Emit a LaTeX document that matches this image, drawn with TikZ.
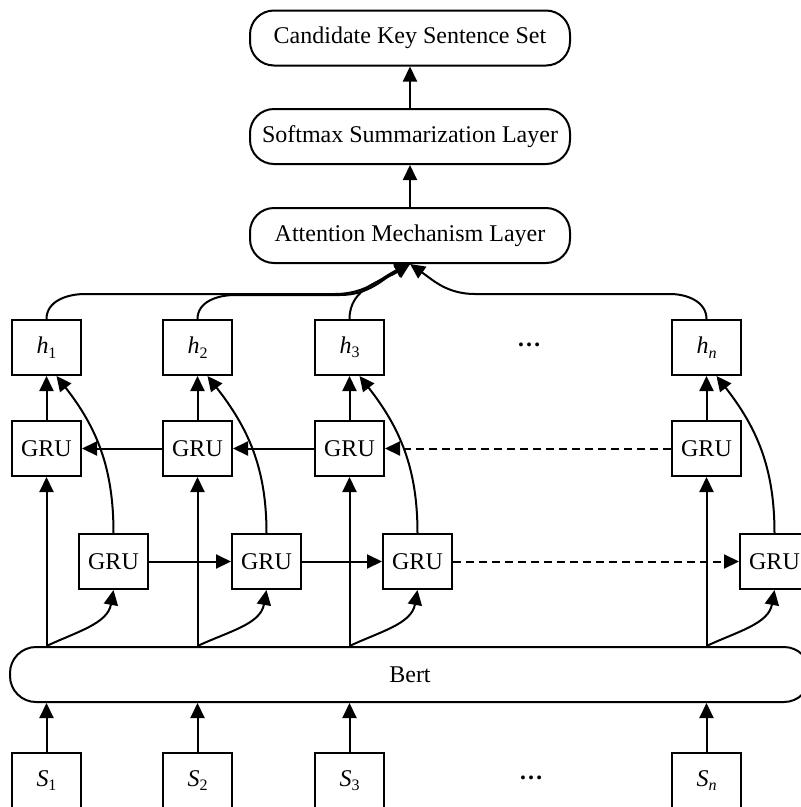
\documentclass[tikz,border=0pt]{standalone}
\usepackage{fontspec}
\setmainfont{Liberation Serif}
\usetikzlibrary{arrows.meta}
\newcommand{\vsub}[2]{\textit{#1}\raisebox{-0.4ex}{\fontsize{16}{16}\selectfont #2}}
\begin{document}
\begin{tikzpicture}[x=1pt,y=-1pt,
  font=\fontsize{24}{28}\selectfont,
  line width=2pt,
  box/.style={draw, minimum width=69pt, minimum height=55pt, inner sep=0pt},
  layer/.style={draw, rounded corners=24pt, minimum width=320pt, minimum height=55pt, inner sep=0pt},
  arr/.style={-{Triangle[length=15pt,width=14pt]}},
  dsh/.style={dashed, dash pattern=on 8pt off 5pt}]
\clip (0,0) rectangle (801,807);
% top layers
\node[layer] (cand) at (410,38) {Candidate Key Sentence Set};
\node[layer] (soft) at (410,136.5) {Softmax Summarization Layer};
\node[layer] (att) at (410,235.5) {Attention Mechanism Layer};
\draw[arr] (att.north) -- (soft.south);
\draw[arr] (soft.north) -- (cand.south);
% h row
\node[box] (h1) at (46.5,347.5) {\vsub{h}{1}};
\node[box] (h2) at (197.5,347.5) {\vsub{h}{2}};
\node[box] (h3) at (349.5,347.5) {\vsub{h}{3}};
\node[box] (hn) at (706.5,347.5) {\vsub{h}{\textit{n}}};
\node (hdots) at (529,345) {\textbf{…}};
% upper GRU row
\node[box] (u1) at (46.5,448.5) {GRU};
\node[box] (u2) at (197.5,448.5) {GRU};
\node[box] (u3) at (349.5,448.5) {GRU};
\node[box] (un) at (706.5,448.5) {GRU};
% lower GRU row
\node[box] (l1) at (113.5,561.5) {GRU};
\node[box] (l2) at (266.5,561.5) {GRU};
\node[box] (l3) at (417.5,561.5) {GRU};
\node[box] (ln) at (774.5,561.5) {GRU};
% Bert
\node[draw, rounded corners=26pt, minimum width=800pt, minimum height=55pt, inner sep=0pt] (bert) at (410,674.5) {Bert};
% S row
\node[box] (s1) at (46.5,780.5) {\vsub{S}{1}};
\node[box] (s2) at (197.5,780.5) {\vsub{S}{2}};
\node[box] (s3) at (349.5,780.5) {\vsub{S}{3}};
\node[box] (sn) at (706.5,780.5) {\vsub{S}{\textit{n}}};
\node (sdots) at (531,778) {\textbf{…}};
% S -> Bert
\foreach \s in {s1,s2,s3,sn}{\draw[arr] (\s.north) -- (\s.north |- bert.south);}
% Bert -> GRUs
\foreach \u/\l in {u1/l1,u2/l2,u3/l3,un/ln}{
  \draw[arr] (\u.south |- bert.north) -- (\u.south);
  \draw[arr] (\u.south |- bert.north) to[out=25,in=-100] (\l.south);
}
% upper GRU -> h
\foreach \u/\h in {u1/h1,u2/h2,u3/h3,un/hn}{\draw[arr] (\u.north) -- (\h.south);}
% lower GRU -> h
\foreach \l/\h in {l1/h1,l2/h2,l3/h3,ln/hn}{\draw[arr] (\l.north) to[out=90,in=-52] ([xshift=10pt]\h.south);}
% horizontal recurrences
\draw[arr] (u2.west) -- (u1.east);
\draw[arr] (u3.west) -- (u2.east);
\draw[arr,dsh] (un.west) -- (u3.east);
\draw[arr] (l1.east) -- (l2.west);
\draw[arr] (l2.east) -- (l3.west);
\draw[arr,dsh] (l3.east) -- (ln.west);
% h -> attention
\coordinate (a1) at (85,294);
\coordinate (b1) at (335,294);
\coordinate (a2) at (235,295);
\coordinate (b2) at (340,295);
\coordinate (an) at (670,294);
\coordinate (bn) at (475,294);
\draw[arr] (h1.north) to[out=90,in=180] (a1) -- (b1) to[out=0,in=-155] (att.south);
\draw[arr] (h2.north) to[out=90,in=180] (a2) -- (b2) to[out=0,in=-152] (att.south);
\draw[arr] (h3.north) to[out=90,in=-148] (att.south);
\draw[arr] (hn.north) to[out=90,in=0] (an) -- (bn) to[out=180,in=-35] (att.south);
\end{tikzpicture}
\end{document}
